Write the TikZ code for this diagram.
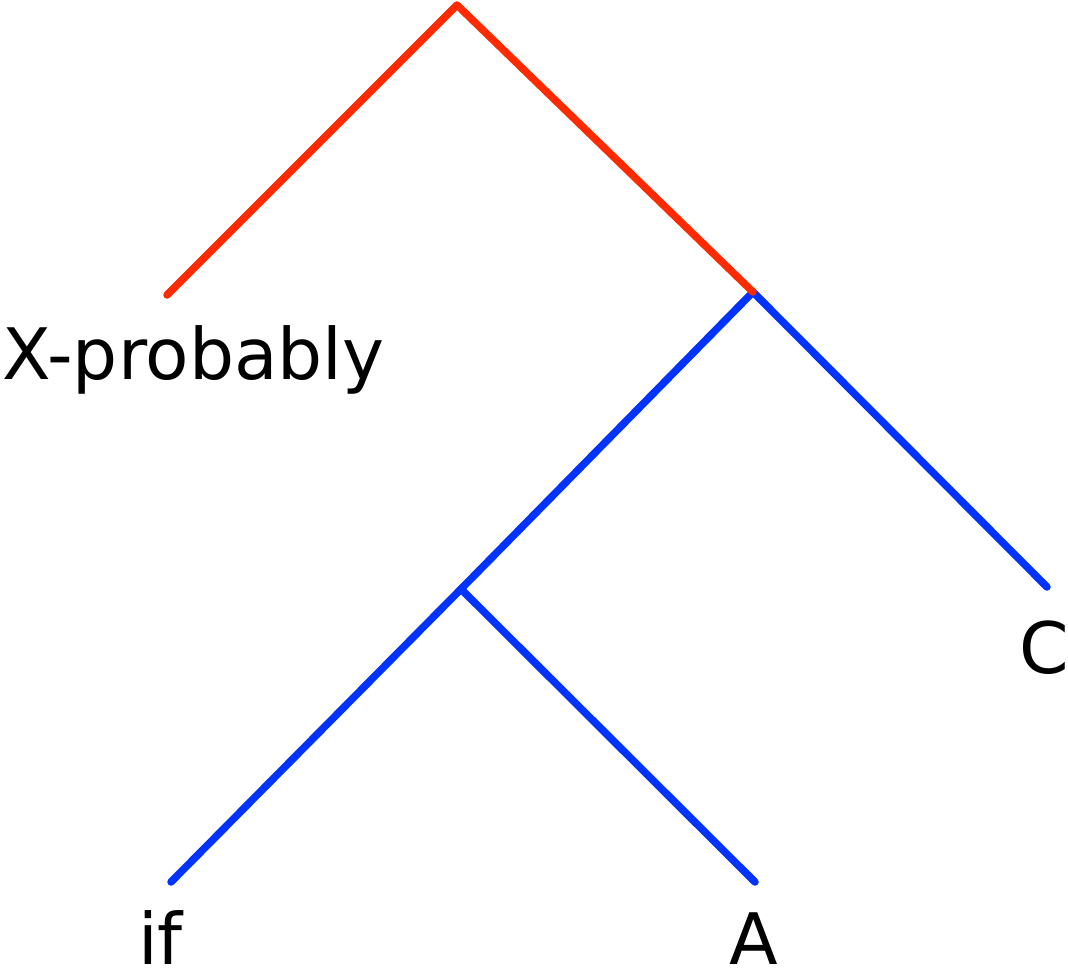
\documentclass[tikz,border=0pt]{standalone}
\usepackage{fontspec}
\setmainfont{DejaVu Sans}
\definecolor{treered}{HTML}{FF2A00}
\definecolor{treeblue}{HTML}{0033FF}
\begin{document}
\begin{tikzpicture}[x=1pt,y=-1pt,
  edge/.style={line width=7.5pt,line cap=round,line join=round},
  lbl/.style={inner sep=0pt,anchor=base west,font=\fontsize{71}{85}\selectfont}]
\useasboundingbox (0,0) rectangle (1068,971);
\coordinate (root) at (457,5);
\coordinate (xp) at (167,295);
\coordinate (n1) at (753,292);
\coordinate (c) at (1047,587);
\coordinate (n2) at (461,589);
\coordinate (if) at (171,882);
\coordinate (a) at (755,882);
\draw[edge,treeblue] (c) -- (n1) -- (n2) -- (if);
\draw[edge,treeblue] (n2) -- (a);
\draw[edge,treered] (xp) -- (root) -- (n1);
\node[lbl] (lxp) at (2,379) {X-probably};
\node[lbl,text depth=0pt] (lif) at (138,964) {if};
\node[lbl,text depth=0pt] (la) at (729,964) {A};
\node[lbl] (lc) at (1019,673) {C};
\end{tikzpicture}
\end{document}
